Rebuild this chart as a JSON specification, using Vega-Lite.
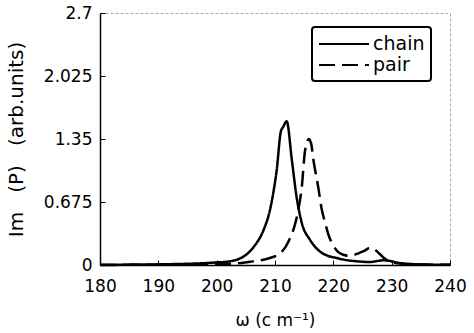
{
  "$schema": "https://vega.github.io/schema/vega-lite/v6.json",
  "autosize": "none",
  "width": 350,
  "height": 252,
  "padding": {"left": 100, "top": 13, "right": 24, "bottom": 68},
  "background": "white",
  "config": {
    "view": {"stroke": "#aaaaaa", "strokeWidth": 1, "strokeDash": [3, 2]},
    "font": "DejaVu Sans"
  },
  "data": {
    "values": [
      {"w": 180, "v": 0.002, "s": "chain"},
      {"w": 185, "v": 0.004, "s": "chain"},
      {"w": 190, "v": 0.007, "s": "chain"},
      {"w": 195, "v": 0.013, "s": "chain"},
      {"w": 198, "v": 0.02, "s": "chain"},
      {"w": 200, "v": 0.028, "s": "chain"},
      {"w": 201.7, "v": 0.035, "s": "chain"},
      {"w": 204, "v": 0.07, "s": "chain"},
      {"w": 206.3, "v": 0.19, "s": "chain"},
      {"w": 208, "v": 0.37, "s": "chain"},
      {"w": 209.1, "v": 0.58, "s": "chain"},
      {"w": 209.7, "v": 0.77, "s": "chain"},
      {"w": 210.3, "v": 1.02, "s": "chain"},
      {"w": 211.0, "v": 1.43, "s": "chain"},
      {"w": 211.4, "v": 1.48, "s": "chain"},
      {"w": 212.0, "v": 1.54, "s": "chain"},
      {"w": 212.9, "v": 1.12, "s": "chain"},
      {"w": 213.7, "v": 0.73, "s": "chain"},
      {"w": 214.6, "v": 0.45, "s": "chain"},
      {"w": 216.0, "v": 0.27, "s": "chain"},
      {"w": 217.7, "v": 0.145, "s": "chain"},
      {"w": 219, "v": 0.1, "s": "chain"},
      {"w": 220.6, "v": 0.075, "s": "chain"},
      {"w": 222, "v": 0.055, "s": "chain"},
      {"w": 224, "v": 0.04, "s": "chain"},
      {"w": 226.3, "v": 0.032, "s": "chain"},
      {"w": 227.5, "v": 0.042, "s": "chain"},
      {"w": 228.5, "v": 0.05, "s": "chain"},
      {"w": 229.5, "v": 0.045, "s": "chain"},
      {"w": 231, "v": 0.025, "s": "chain"},
      {"w": 233, "v": 0.012, "s": "chain"},
      {"w": 235, "v": 0.006, "s": "chain"},
      {"w": 240, "v": 0.002, "s": "chain"},
      {"w": 180, "v": 0.001, "s": "pair"},
      {"w": 190, "v": 0.003, "s": "pair"},
      {"w": 195, "v": 0.006, "s": "pair"},
      {"w": 200, "v": 0.01, "s": "pair"},
      {"w": 203.4, "v": 0.018, "s": "pair"},
      {"w": 205.7, "v": 0.035, "s": "pair"},
      {"w": 207.5, "v": 0.05, "s": "pair"},
      {"w": 209.1, "v": 0.075, "s": "pair"},
      {"w": 210.9, "v": 0.125, "s": "pair"},
      {"w": 212.3, "v": 0.25, "s": "pair"},
      {"w": 213.4, "v": 0.43, "s": "pair"},
      {"w": 214.0, "v": 0.59, "s": "pair"},
      {"w": 214.6, "v": 0.84, "s": "pair"},
      {"w": 215.1, "v": 1.2, "s": "pair"},
      {"w": 215.5, "v": 1.32, "s": "pair"},
      {"w": 215.8, "v": 1.35, "s": "pair"},
      {"w": 216.2, "v": 1.3, "s": "pair"},
      {"w": 216.6, "v": 1.12, "s": "pair"},
      {"w": 217.4, "v": 0.84, "s": "pair"},
      {"w": 218, "v": 0.6, "s": "pair"},
      {"w": 218.6, "v": 0.45, "s": "pair"},
      {"w": 219.3, "v": 0.3, "s": "pair"},
      {"w": 220, "v": 0.21, "s": "pair"},
      {"w": 220.8, "v": 0.14, "s": "pair"},
      {"w": 221.7, "v": 0.11, "s": "pair"},
      {"w": 222.5, "v": 0.1, "s": "pair"},
      {"w": 223.4, "v": 0.105, "s": "pair"},
      {"w": 224.3, "v": 0.125, "s": "pair"},
      {"w": 225.1, "v": 0.145, "s": "pair"},
      {"w": 226.4, "v": 0.185, "s": "pair"},
      {"w": 227.2, "v": 0.16, "s": "pair"},
      {"w": 227.9, "v": 0.12, "s": "pair"},
      {"w": 228.8, "v": 0.07, "s": "pair"},
      {"w": 230, "v": 0.03, "s": "pair"},
      {"w": 232, "v": 0.012, "s": "pair"},
      {"w": 235, "v": 0.005, "s": "pair"},
      {"w": 240, "v": 0.002, "s": "pair"}
    ]
  },
  "mark": {"type": "line", "color": "black", "strokeWidth": 2.5, "interpolate": "monotone"},
  "encoding": {
    "x": {
      "field": "w", "type": "quantitative",
      "scale": {"domain": [180, 240], "nice": false, "zero": false},
      "axis": {
        "values": [180, 190, 200, 210, 220, 230, 240],
        "title": "ω (c m⁻¹)",
        "titleFontSize": 17, "titleFontWeight": "normal", "titleColor": "black", "titlePadding": 18,
        "labelFontSize": 17, "labelColor": "black", "labelPadding": 18, "labelFlush": false,
        "ticks": true, "tickSize": -5, "tickColor": "black", "grid": false,
        "domainColor": "black", "domainWidth": 1.5
      }
    },
    "y": {
      "field": "v", "type": "quantitative",
      "scale": {"domain": [0, 2.7], "nice": false},
      "axis": {
        "values": [0, 0.675, 1.35, 2.025, 2.7],
        "format": ".4~g",
        "title": "Im\u00a0\u00a0\u00a0(P)\u00a0\u00a0\u00a0(arb.units)",
        "titleFontSize": 20, "titleFontWeight": "normal", "titleColor": "black", "titlePadding": 17,
        "labelFontSize": 17, "labelColor": "black", "labelPadding": 13, "labelFlush": false,
        "ticks": true, "tickSize": -5, "tickColor": "black", "grid": false,
        "domainColor": "black", "domainWidth": 1.5
      }
    },
    "strokeDash": {
      "field": "s", "type": "nominal",
      "scale": {"domain": ["chain", "pair"], "range": [[1, 0], [16, 7]]},
      "legend": {
        "title": null,
        "orient": "none",
        "legendX": 212,
        "legendY": 14,
        "symbolType": "M-2.5,0H2.5",
        "symbolSize": 400,
        "symbolOffset": 15,
        "symbolStrokeWidth": 2,
        "symbolStrokeColor": "black",
        "labelFontSize": 19,
        "labelColor": "black",
        "labelOffset": 18,
        "rowPadding": -3,
        "padding": 6,
        "strokeColor": "black",
        "fillColor": "white",
        "cornerRadius": 3,
        "encode": {"legend": {"update": {"strokeWidth": {"value": 2}}}}
      }
    }
  }
}
